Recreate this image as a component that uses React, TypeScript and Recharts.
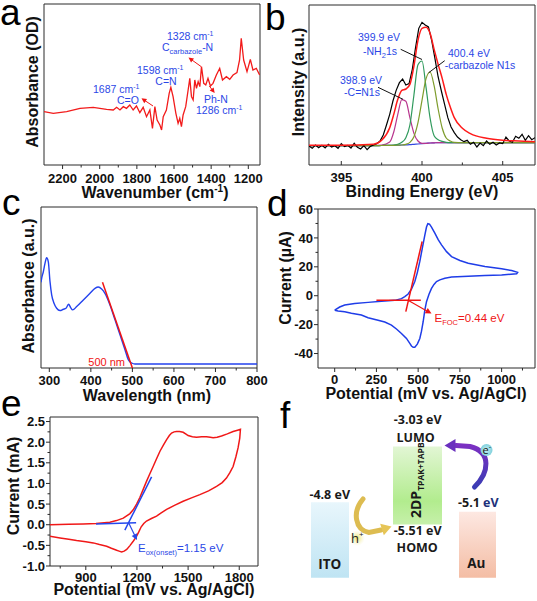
import React from "react";
import { ComposedChart, Line, XAxis, YAxis, ReferenceArea } from "recharts";

const FONT = "'Liberation Sans', Arial, Helvetica, sans-serif";
const FFONT = "'Open Sans', 'Noto Sans', sans-serif";
const AX = "#2a2a2a";
const BLUE = "#2b47e6";
const RED = "#f01414";

// a: FTIR
const ftirWavenumber = [2300, 2250, 2178, 2106, 2035, 1963, 1927, 1909, 1891, 1873, 1856, 1838, 1820, 1802, 1784, 1766, 1748, 1730, 1716, 1703, 1691, 1676, 1667, 1658, 1641, 1626, 1617, 1605, 1590, 1578, 1569, 1560, 1551, 1537, 1524, 1515, 1506, 1497, 1488, 1479, 1470, 1461, 1452, 1440, 1429, 1417, 1404, 1390, 1372, 1354, 1339, 1318, 1300, 1282, 1261, 1247, 1238, 1225, 1207, 1189, 1175, 1157, 1139];
const ftirAbs = [158, 153, 158, 168, 171, 165, 163, 171, 163, 173, 168, 178, 163, 175, 155, 171, 143, 163, 108, 173, 133, 118, 103, 143, 163, 213, 231, 203, 153, 123, 138, 113, 148, 173, 223, 258, 203, 193, 253, 228, 248, 233, 293, 243, 238, 258, 235, 243, 268, 288, 253, 263, 255, 268, 275, 313, 378, 313, 278, 315, 283, 288, 268];
const ftirTicks = [2200, 2100, 2000, 1900, 1800, 1700, 1600, 1500, 1400, 1300, 1200];

// b: XPS N1s
const xpsRawEnergy = [393.0, 393.2, 393.4, 393.6, 393.8, 394.0, 394.2, 394.4, 394.6, 394.8, 395.0, 395.2, 395.4, 395.6, 395.8, 396.0, 396.2, 396.4, 396.6, 396.8, 397.0, 397.2, 397.4, 397.6, 397.8, 398.0, 398.2, 398.4, 398.6, 398.8, 399.0, 399.2, 399.4, 399.6, 399.8, 400.0, 400.2, 400.4, 400.6, 400.8, 401.0, 401.2, 401.4, 401.6, 401.8, 402.0, 402.2, 402.4, 402.6, 402.8, 403.0, 403.2, 403.4, 403.6, 403.8, 404.0, 404.2, 404.4, 404.6, 404.8, 405.0, 405.2, 405.4, 405.6, 405.8, 406.0, 406.2, 406.4, 406.6, 406.8, 407.0];
const xpsRawIntensity = [55, 48, 58, 50, 57, 49, 60, 52, 56, 48, 62, 53, 57, 49, 63, 51, 46, 56, 44, 54, 58, 62, 70, 88, 118, 150, 190, 222, 245, 256, 238, 242, 285, 350, 408, 426, 418, 412, 372, 318, 262, 220, 180, 140, 112, 95, 82, 74, 68, 72, 60, 66, 52, 64, 56, 70, 60, 66, 58, 64, 62, 82, 70, 66, 84, 78, 90, 72, 86, 74, 80];
const xpsFitEnergy = [393, 395, 397, 397.5, 398, 398.25, 398.5, 398.75, 399, 399.25, 399.5, 399.75, 400, 400.25, 400.5, 400.75, 401, 401.25, 401.5, 401.75, 402, 402.5, 403, 404, 405, 406, 407];
const xpsBackground = [56, 56, 56, 56.5, 57, 57, 57.5, 58, 58.5, 59, 60, 61, 62, 63, 64, 64.5, 65, 65, 65, 65, 65, 65, 65, 65, 65, 65, 65];
const xpsPeakCN = [56, 56, 56.5, 58, 67, 97, 150, 194, 189, 140, 93, 70, 63, 63, 64, 64.5, 65, 65, 65, 65, 65, 65, 65, 65, 65, 65, 65];
const xpsPeakNH2 = [56, 56, 56, 56.5, 57, 58, 60, 66, 80, 118, 208, 299, 310, 231, 139, 86, 74, 69, 66, 65, 65, 65, 65, 65, 65, 65, 65];
const xpsPeakCarbazole = [56, 56, 56, 56.5, 57, 57, 57.5, 58, 60, 66, 83, 125, 192, 257, 277, 236, 166, 109, 79, 70, 66, 65, 65, 65, 65, 65, 65];
const xpsEnvelope = [57, 57, 60, 72, 110, 150, 195, 222, 226, 240, 295, 372, 408, 411, 393, 345, 300, 258, 210, 172, 140, 108, 92, 78, 72, 70, 68];
const xpsTicks = [395, 397.5, 400, 402.5, 405];

// c: UV-vis
const uvWavelength = [280, 281.6, 285.6, 289.6, 293.6, 297.6, 301.7, 305.7, 311.3, 317.7, 325.7, 333.8, 340.2, 346.6, 351.4, 356.2, 365.9, 381.9, 398, 410, 418, 426, 434, 446.1, 458.2, 470.2, 482.2, 490.2, 498.3, 506.3, 600, 800];
const uvAbs = [258, 270, 290, 315, 332, 320, 260, 220, 195, 180, 173, 177, 180, 192, 182, 175, 185, 205, 225, 240, 244, 238, 225, 190, 145, 100, 55, 25, 15, 12, 12, 12];
const uvTangentNm = [428, 500];
const uvTangentAbs = [258, 0];
const uvTicks = [300, 350, 400, 450, 500, 550, 600, 650, 700, 750, 800];

// d: CV of ferrocene
const fcPotential = [0, 30, 60, 120, 200, 280, 360, 400, 420, 440, 460, 480, 495, 510, 525, 540, 550, 558, 568, 580, 600, 620, 640, 670, 700, 750, 800, 900, 1000, 1060, 1096, 1090, 1000, 900, 800, 700, 660, 630, 610, 595, 580, 565, 550, 540, 530, 520, 510, 495, 480, 470, 460, 450, 430, 400, 370, 340, 300, 260, 200, 160, 100, 60, 20, 0];
const fcCurrent = [-10, -7.8, -6.4, -5.3, -4.6, -3.9, -3.2, -2.0, -0.6, 1.2, 4.5, 9.8, 16, 23.7, 33, 42, 47.5, 49.8, 49.5, 47.5, 43.3, 38.8, 35.2, 30.5, 27.1, 24.4, 22.5, 20.2, 18.6, 17.4, 16.2, 15.2, 14.4, 14.0, 13.5, 12.9, 12.1, 11, 9.8, 7.8, 5.1, 1, -4.1, -10, -18, -24.5, -29.6, -33.5, -35.6, -35.7, -34.8, -33, -29.5, -26.1, -23, -20.3, -18.2, -16.9, -15.2, -13.4, -12.1, -11.1, -10.5, -10];
const fcTangentPot = [426, 524];
const fcTangentCur = [-11, 37.5];
const fcBasePot = [250, 516];
const fcBaseCur = [-3.2, -3.2];
const fcXTicks = [0, 125, 250, 375, 500, 625, 750, 875, 1000, 1125];
const fcYTicks = [-40, -30, -20, -10, 0, 10, 20, 30, 40, 50, 60];

// e: CV of the film
const cvPotential = [690, 800, 885, 960, 1041, 1080, 1120, 1159, 1178, 1198, 1217, 1236, 1256, 1275, 1295, 1315, 1335, 1355, 1374, 1390, 1403, 1418, 1432, 1450, 1471, 1490, 1500, 1525, 1549, 1580, 1608, 1630, 1647, 1670, 1696, 1730, 1764, 1790, 1807, 1803, 1793, 1780, 1764, 1745, 1725, 1700, 1667, 1620, 1569, 1520, 1471, 1420, 1374, 1340, 1315, 1285, 1256, 1240, 1225, 1210, 1195, 1178, 1160, 1140, 1125, 1110, 1095, 1081, 1050, 1022, 980, 944, 900, 846, 800, 749, 690];
const cvCurrent = [0.0, 0.01, 0.02, 0.03, 0.06, 0.1, 0.16, 0.27, 0.36, 0.5, 0.66, 0.85, 1.05, 1.23, 1.41, 1.6, 1.78, 1.93, 2.06, 2.16, 2.22, 2.25, 2.26, 2.26, 2.24, 2.19, 2.16, 2.13, 2.12, 2.13, 2.13, 2.12, 2.11, 2.12, 2.15, 2.2, 2.26, 2.29, 2.31, 2.1, 1.86, 1.64, 1.41, 1.26, 1.13, 1.02, 0.93, 0.82, 0.73, 0.65, 0.57, 0.47, 0.37, 0.28, 0.21, 0.15, 0.09, 0.03, -0.05, -0.18, -0.3, -0.4, -0.5, -0.6, -0.64, -0.66, -0.64, -0.62, -0.57, -0.52, -0.48, -0.44, -0.41, -0.38, -0.35, -0.32, -0.28];
const cvTangentPot = [1129, 1286];
const cvTangentCur = [-0.13, 1.16];
const cvBasePot = [960, 1195];
const cvBaseCur = [0.02, 0.05];
const cvXTicks = [750, 900, 1050, 1200, 1350, 1500, 1650, 1800];
const cvYTicks = [-1, -0.75, -0.5, -0.25, 0, 0.25, 0.5, 0.75, 1, 1.25, 1.5, 1.75, 2, 2.25, 2.5];

// f: energy levels (eV)
const levelNames = ["ITO", "2DP", "Au"];
const levelTop = [-4.8, -3.03, -5.1];
const levelBottom = [-7.2, -5.51, -7.2];
const levelCenter = [330, 417.5, 477.5];
const levelHalfWidth = [19, 24.5, 18.5];

const zip = (xs: number[], ys: number[]) => xs.map((x, i) => ({ x, y: ys[i] }));

const PL = 60, PR = 12, PT = 12, PB = 40;

function xTickFn(isMajor: (v: number) => boolean, fmt: (v: number) => string, gap: number, dir = 1) {
  return (p: any) => {
    const { x, y, payload } = p;
    const v = payload.value;
    const mj = isMajor(v);
    return (
      <g>
        <line x1={x} x2={x} y1={y} y2={y + dir * (mj ? 4 : 2.5)} stroke={AX} strokeWidth={1} />
        {mj && (
          <text x={x} y={y + gap} textAnchor="middle" fontFamily={FONT} fontWeight={700} fontSize={13} fill="#111">
            {fmt(v)}
          </text>
        )}
      </g>
    );
  };
}

function yTickFn(isMajor: (v: number) => boolean, fmt: (v: number) => string) {
  return (p: any) => {
    const { x, y, payload } = p;
    const v = payload.value;
    const mj = isMajor(v);
    return (
      <g>
        <line x1={x - (mj ? 4 : 2.5)} x2={x} y1={y} y2={y} stroke={AX} strokeWidth={1} />
        {mj && (
          <text x={x - 5} y={y + 4.6} textAnchor="end" fontFamily={FONT} fontWeight={700} fontSize={13} fill="#111">
            {fmt(v)}
          </text>
        )}
      </g>
    );
  };
}

type PanelProps = {
  frame: [number, number, number, number];
  xDomain: [number, number];
  yDomain: [number, number];
  reversed?: boolean;
  xTicks: number[];
  xTick: any;
  yTicks?: number[];
  yTick?: any;
  children: React.ReactNode;
};

function Panel({ frame, xDomain, yDomain, reversed, xTicks, xTick, yTicks, yTick, children }: PanelProps) {
  const [x1, y1, x2, y2] = frame;
  return (
    <div style={{ position: "absolute", left: x1 - PL, top: y1 - PT }}>
      <ComposedChart width={x2 - x1 + PL + PR} height={y2 - y1 + PT + PB} margin={{ top: PT, right: PR, bottom: 0, left: 0 }}>
        <XAxis type="number" dataKey="x" domain={xDomain} allowDataOverflow reversed={reversed} ticks={xTicks} interval={0}
          tickLine={false} axisLine={false} tickSize={0} tickMargin={0} height={PB} tick={xTick} />
        <YAxis type="number" domain={yDomain} allowDataOverflow width={PL} ticks={yTicks} interval={0}
          tickLine={false} axisLine={false} tickSize={0} tickMargin={0} tick={yTick ?? false} />
        <ReferenceArea x1={xDomain[0]} x2={xDomain[1]} y1={yDomain[0]} y2={yDomain[1]} fill="none" fillOpacity={0}
          stroke={AX} strokeWidth={1} ifOverflow="visible" />
        {children}
      </ComposedChart>
    </div>
  );
}

const line = (data: any[], color: string, w = 1.3, type: any = "linear", key?: string) => (
  <Line key={key} data={data} dataKey="y" type={type} stroke={color} strokeWidth={w} dot={false} activeDot={false} isAnimationActive={false} />
);

function headPts(tx: number, ty: number, fx: number, fy: number, len: number, half: number) {
  const a = Math.atan2(ty - fy, tx - fx);
  const bx = tx - len * Math.cos(a), by = ty - len * Math.sin(a);
  const px = -Math.sin(a) * half, py = Math.cos(a) * half;
  return `${tx},${ty} ${bx + px},${by + py} ${bx - px},${by - py}`;
}

function Arrow({ x1, y1, x2, y2, color, w = 1, len = 5, half = 2.5 }: any) {
  const a = Math.atan2(y2 - y1, x2 - x1);
  return (
    <g>
      <line x1={x1} y1={y1} x2={x2 - len * 0.8 * Math.cos(a)} y2={y2 - len * 0.8 * Math.sin(a)} stroke={color} strokeWidth={w} />
      <polygon points={headPts(x2, y2, x1, y1, len, half)} fill={color} />
    </g>
  );
}

const T = (props: any) => <text fontFamily={FONT} {...props} />;

function YTitle({ cx, cy, children }: any) {
  return (
    <text transform={`translate(${cx},${cy}) rotate(-90)`} textAnchor="middle" dominantBaseline="central"
      fontFamily={FONT} fontWeight={700} fontSize={16} fill="#111">
      {children}
    </text>
  );
}

function XTitle({ cx, y, children }: any) {
  return (
    <text x={cx} y={y} textAnchor="middle" fontFamily={FONT} fontWeight={700} fontSize={16} fill="#111">
      {children}
    </text>
  );
}

function Overlay() {
  const ann = { fontFamily: FONT, fontSize: 10.5, fill: BLUE };
  const lvl = { fontFamily: FFONT, fontWeight: 700, fontSize: 12.5, fill: "#1a1a1a", textAnchor: "middle" as const };
  return (
    <svg width={537} height={601} style={{ position: "absolute", left: 0, top: 0, pointerEvents: "none" }}>
      <defs>
        <linearGradient id="gITO" x1="0" y1="0" x2="0" y2="1">
          <stop offset="0%" stopColor="#e8f6fc" />
          <stop offset="100%" stopColor="#bfe4f3" />
        </linearGradient>
        <linearGradient id="g2DP" x1="0" y1="0" x2="0" y2="1">
          <stop offset="0%" stopColor="#e2f6d4" />
          <stop offset="70%" stopColor="#b2ec8e" />
          <stop offset="100%" stopColor="#c6f0aa" />
        </linearGradient>
        <linearGradient id="gAu" x1="0" y1="0" x2="0" y2="1">
          <stop offset="0%" stopColor="#fde8e2" />
          <stop offset="100%" stopColor="#f4bda4" />
        </linearGradient>
        <linearGradient id="gPurple" x1="0" y1="1" x2="0" y2="0">
          <stop offset="0%" stopColor="#3a3cb4" />
          <stop offset="100%" stopColor="#7b30c2" />
        </linearGradient>
        <radialGradient id="gH">
          <stop offset="0%" stopColor="#e9e46a" />
          <stop offset="100%" stopColor="#f6f2c0" stopOpacity={0} />
        </radialGradient>
        <radialGradient id="gE">
          <stop offset="0%" stopColor="#c8f0f4" />
          <stop offset="100%" stopColor="#7fd0dc" />
        </radialGradient>
      </defs>

      {/* panel letters */}
      <T x={0} y={25} fontSize={37}>a</T>
      <T x={265} y={30} fontSize={37}>b</T>
      <T x={2} y={215} fontSize={37}>c</T>
      <T x={267} y={216} fontSize={37}>d</T>
      <T x={1} y={416} fontSize={37}>e</T>
      <T x={280} y={428} fontSize={37}>f</T>

      {/* axis titles */}
      <YTitle cx={32} cy={82}>Absorbance (OD)</YTitle>
      <XTitle cx={155} y={198}>
        Wavenumber (cm<tspan dy={-6} fontSize={10}>-1</tspan><tspan dy={6}>)</tspan>
      </XTitle>
      <YTitle cx={298} cy={82}>Intensity (a.u.)</YTitle>
      <XTitle cx={422} y={197}>Binding Energy (eV)</XTitle>
      <YTitle cx={28} cy={286}>Absorbance (a.u.)</YTitle>
      <XTitle cx={147} y={401}>Wavelength (nm)</XTitle>
      <YTitle cx={285} cy={278}>Current (µA)</YTitle>
      <XTitle cx={426} y={399}>Potential (mV vs. Ag/AgCl)</XTitle>
      <YTitle cx={13} cy={486}>Current (mA)</YTitle>
      <XTitle cx={154} y={595}>Potential (mV vs. Ag/AgCl)</XTitle>

      {/* a annotations */}
      <T {...ann} x={167} y={40}>1328 cm<tspan dy={-4} fontSize={7}>-1</tspan></T>
      <T {...ann} x={162} y={50.5}>C<tspan dy={3} fontSize={7.5}>carbazole</tspan><tspan dy={-3}>-N</tspan></T>
      <T {...ann} x={137} y={74}>1598 cm<tspan dy={-4} fontSize={7}>-1</tspan></T>
      <T {...ann} x={166} y={84.5} textAnchor="middle">C=N</T>
      <T {...ann} x={93} y={93}>1687 cm<tspan dy={-4} fontSize={7}>-1</tspan></T>
      <T {...ann} x={117} y={103.5}>C=O</T>
      <T {...ann} x={204} y={103}>Ph-N</T>
      <T {...ann} x={196} y={113.5}>1286 cm<tspan dy={-4} fontSize={7}>-1</tspan></T>
      <Arrow x1={153} y1={106} x2={141.5} y2={98.3} color={RED} />
      <Arrow x1={201} y1={66.5} x2={188.5} y2={57.5} color={RED} />
      <Arrow x1={209.3} y1={86} x2={214.7} y2={93} color={RED} />

      {/* b annotations */}
      <T {...ann} x={379} y={40.5} textAnchor="middle">399.9 eV</T>
      <T {...ann} x={380} y={55} textAnchor="middle">-NH<tspan dy={3} fontSize={7.5}>2</tspan><tspan dy={-3}>1s</tspan></T>
      <T {...ann} x={469} y={56.5} textAnchor="middle">400.4 eV</T>
      <T {...ann} x={480} y={68.5} textAnchor="middle">-carbazole N1s</T>
      <T {...ann} x={361} y={84} textAnchor="middle">398.9 eV</T>
      <T {...ann} x={362} y={95.5} textAnchor="middle">-C=N1s</T>
      <line x1={400.7} y1={49.3} x2={422} y2={59.5} stroke="#111" strokeWidth={1} />
      <line x1={444.7} y1={60.7} x2={428.7} y2={72.7} stroke="#111" strokeWidth={1} />
      <line x1={378} y1={87.3} x2={403} y2={99.3} stroke="#111" strokeWidth={1} />

      {/* c */}
      <T x={125} y={366} textAnchor="end" fontSize={11} fill={RED}>500 nm</T>

      {/* d */}
      <Arrow x1={408} y1={300.3} x2={431.5} y2={313.5} color={RED} w={1.2} len={6} half={3} />
      <T x={434.5} y={322} fontSize={11.5} fill={RED}>E<tspan dy={3} fontSize={7.5}>FOC</tspan><tspan dy={-3}>=0.44 eV</tspan></T>

      {/* e */}
      <Arrow x1={128.5} y1={522.5} x2={137} y2={540} color={BLUE} w={1.2} len={6} half={3} />
      <T x={138} y={552} fontSize={11.5} fill={BLUE}>E<tspan dy={3} fontSize={7.5}>ox(onset)</tspan><tspan dy={-3}>=1.15 eV</tspan></T>

      {/* f labels */}
      <text {...lvl} x={417.7} y={424}>-3.03 eV</text>
      <text {...lvl} x={415.5} y={441.7}>LUMO</text>
      <text {...lvl} x={417.7} y={535}>-5.51 eV</text>
      <text {...lvl} x={417.2} y={551.7}>HOMO</text>
      <text {...lvl} x={329.7} y={499}>-4.8 eV</text>
      <text {...lvl} x={329.7} y={569} fontSize={13.5}>ITO</text>
      <text {...lvl} x={478.3} y={506.5}>-5.1 <tspan fill="#20307a">eV</tspan></text>
      <text {...lvl} x={476.3} y={568.3} fontSize={13.5}>Au</text>
      <text transform="translate(421,518) rotate(-90)" fontFamily={FFONT} fontWeight={700} fontSize={14} fill="#1a1a1a">
        2DP<tspan dy={3} fontSize={8.5}>TPAK+TAPB</tspan>
      </text>

      {/* electron transfer arrow */}
      <path d="M474.5,487 C489,473 492,452 470,446.5 L456,445.5" fill="none" stroke="url(#gPurple)" strokeWidth={5} strokeLinecap="round" />
      <polygon points={headPts(444.5, 445.5, 458, 445.5, 11, 6.5)} fill="#6a30be" />
      <circle cx={486.5} cy={450} r={6} fill="url(#gE)" />
      <text x={482.5} y={454} fontFamily={FFONT} fontSize={11} fill="#111">e<tspan dy={-5} fontSize={7}>-</tspan></text>

      {/* hole transfer arrow */}
      <path d="M363,499 C352,512 355,530 369,532.5 L381,530" fill="none" stroke="#d9b53e" strokeWidth={5} strokeLinecap="round" opacity={0.9} />
      <polygon points={headPts(391.5, 526.5, 380, 530.2, 10, 6)} fill="#e6c557" />
      <circle cx={357} cy={538} r={8} fill="url(#gH)" />
      <text x={351} y={543} fontFamily={FFONT} fontSize={13} fill="#222">h<tspan dy={-6} fontSize={8}>+</tspan></text>
    </svg>
  );
}

export default function App() {
  const is = (step: number) => (v: number) => Math.abs(v / step - Math.round(v / step)) < 1e-6;
  const levels = levelNames.map((n, i) => ({ x: levelCenter[i], y: levelTop[i] }));
  return (
    <div style={{ position: "absolute", left: 0, top: 0, width: 537, height: 601, overflow: "hidden", background: "#fff" }}>
      {/* a */}
      <Panel frame={[44, 4, 260, 165]} xDomain={[1137, 2300]} yDomain={[-2, 481]} reversed xTicks={ftirTicks}
        xTick={xTickFn(is(200), (v) => String(v), 18)}>
        {line(zip(ftirWavenumber, ftirAbs), "#f21b1b", 1.3, "linear")}
      </Panel>

      {/* b */}
      <Panel frame={[309, 5, 535, 165]} xDomain={[393, 407]} yDomain={[-2, 478]} xTicks={xpsTicks}
        xTick={xTickFn(is(5), (v) => String(v), 17, -1)}>
        {line(zip(xpsFitEnergy, xpsBackground), "#3147e0", 1.2, "monotone", "bg")}
        {line(zip(xpsFitEnergy, xpsPeakCN), "#b8358e", 1.2, "monotone", "cn")}
        {line(zip(xpsFitEnergy, xpsPeakNH2), "#2f9a5c", 1.2, "monotone", "nh")}
        {line(zip(xpsFitEnergy, xpsPeakCarbazole), "#7e9c2c", 1.2, "monotone", "cz")}
        {line(zip(xpsRawEnergy, xpsRawIntensity), "#000", 1.2, "linear", "raw")}
        {line(zip(xpsFitEnergy, xpsEnvelope), "#ff1a1a", 1.5, "monotone", "env")}
      </Panel>

      {/* c */}
      <Panel frame={[41, 207, 257, 368]} xDomain={[280, 800]} yDomain={[0, 485]} xTicks={uvTicks}
        xTick={xTickFn(is(100), (v) => String(v), 17.3)}>
        {line(zip(uvWavelength, uvAbs), "#2342ee", 1.4, "monotone", "uv")}
        {line(zip(uvTangentNm, uvTangentAbs), RED, 1.5, "linear", "tan")}
      </Panel>

      {/* d */}
      <Panel frame={[318, 209, 535, 368]} xDomain={[-100, 1200]} yDomain={[-50, 60]} xTicks={fcXTicks}
        xTick={xTickFn(is(250), (v) => String(v), 15.6)} yTicks={fcYTicks} yTick={yTickFn(is(20), (v) => String(v))}>
        {line(zip(fcPotential, fcCurrent), "#1f3de8", 1.5, "linear", "cv")}
        {line(zip(fcTangentPot, fcTangentCur), RED, 1.5, "linear", "t1")}
        {line(zip(fcBasePot, fcBaseCur), RED, 1.5, "linear", "t2")}
      </Panel>

      {/* e */}
      <Panel frame={[50, 417, 258, 566]} xDomain={[690, 1910]} yDomain={[-1, 2.61]} xTicks={cvXTicks}
        xTick={xTickFn(is(300), (v) => String(v), 16)} yTicks={cvYTicks} yTick={yTickFn(is(0.5), (v) => v.toFixed(1))}>
        {line(zip(cvPotential, cvCurrent), "#f01818", 1.5, "linear", "cv")}
        {line(zip(cvBasePot, cvBaseCur), "#2348ee", 1.5, "linear", "b1")}
        {line(zip(cvTangentPot, cvTangentCur), "#2348ee", 1.5, "linear", "b2")}
      </Panel>

      {/* f */}
      <div style={{ position: "absolute", left: 290, top: 400 }}>
        <ComposedChart width={247} height={200} margin={{ top: 0, right: 0, bottom: 0, left: 0 }}>
          <XAxis type="number" dataKey="x" domain={[290, 537]} hide />
          <YAxis type="number" domain={[-7.903, -1.554]} hide />
          {levelNames.map((n, i) => (
            <ReferenceArea key={n} x1={levelCenter[i] - levelHalfWidth[i]} x2={levelCenter[i] + levelHalfWidth[i]}
              y1={levelBottom[i]} y2={levelTop[i]} fill={`url(#g${n})`} fillOpacity={1} stroke="none" ifOverflow="visible" />
          ))}
          <Line data={levels} dataKey="y" stroke="none" dot={false} activeDot={false} isAnimationActive={false} />
        </ComposedChart>
      </div>

      <Overlay />
    </div>
  );
}
